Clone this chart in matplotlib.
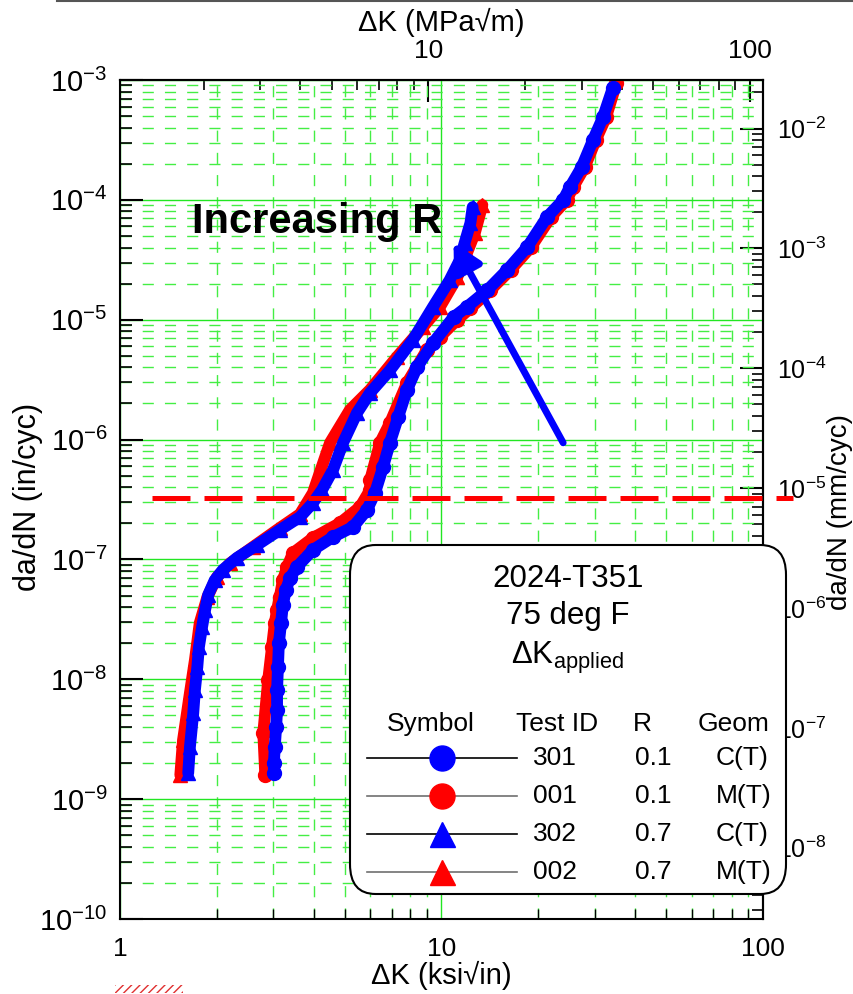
import matplotlib
matplotlib.use('Agg')
import matplotlib.pyplot as plt
import matplotlib.patheffects as pe
from matplotlib.ticker import LogLocator, NullFormatter, StrMethodFormatter
from matplotlib.patches import FancyBboxPatch, Rectangle
from matplotlib.lines import Line2D
import numpy as np

plt.rcParams['font.family'] = ['Liberation Sans', 'DejaVu Sans']
plt.rcParams['mathtext.fontset'] = 'custom'
plt.rcParams['mathtext.rm'] = 'Liberation Sans'
plt.rcParams['mathtext.it'] = 'Liberation Sans:italic'
plt.rcParams['mathtext.bf'] = 'Liberation Sans:bold'

# ---- data (ΔK in ksi√in, da/dN in in/cyc) ----
dk_301 = [3.01, 3.01, 3.03, 3.06, 3.08, 3.08, 3.10, 3.12, 3.17, 3.21, 3.28, 3.38, 3.55,
          3.98, 4.60, 5.31, 5.86, 6.21, 6.58, 6.91, 7.33, 7.81, 8.39, 9.41, 10.9, 12.0,
          13.9, 16.0, 18.5, 21.3, 23.9, 25.1, 27.3, 29.6, 31.8, 34.1]
dadn_301 = [1.65e-9, 2.0e-9, 2.72e-9, 4.0e-9, 5.5e-9, 8.1e-9, 1.27e-8, 2.0e-8, 2.95e-8,
            4.17e-8, 5.56e-8, 7.0e-8, 8.65e-8, 1.2e-7, 1.54e-7, 1.87e-7, 2.58e-7, 3.58e-7,
            5.9e-7, 9.4e-7, 1.54e-6, 2.6e-6, 4.0e-6, 6.4e-6, 1.05e-5, 1.28e-5, 1.77e-5,
            2.6e-5, 4.05e-5, 7.2e-5, 9.97e-5, 1.28e-4, 1.88e-4, 3.16e-4, 4.9e-4, 8.58e-4]

dk_001 = [2.83, 2.79, 2.89, 2.97, 3.03, 3.08, 3.14, 3.21, 3.31, 3.45, 3.98, 4.83, 5.58,
          6.0, 6.0, 6.44, 6.91, 7.81, 9.01, 9.89, 11.2, 12.3, 14.2, 16.4, 19.0, 21.9,
          24.5, 25.7, 27.9, 30.2, 32.5, 35.0]
dadn_001 = [1.59e-9, 3.56e-9, 9.9e-9, 1.86e-8, 2.95e-8, 3.8e-8, 4.86e-8, 6.7e-8, 8.65e-8,
            1.13e-7, 1.51e-7, 2.01e-7, 2.74e-7, 3.8e-7, 4.6e-7, 9.4e-7, 1.37e-6, 2.96e-6,
            5.6e-6, 7.2e-6, 1.0e-5, 1.25e-5, 1.77e-5, 2.6e-5, 4.05e-5, 7.2e-5, 9.97e-5,
            1.28e-4, 1.88e-4, 3.16e-4, 4.9e-4, 9.4e-4]

dk_302 = [1.63, 1.65, 1.69, 1.71, 1.74, 1.76, 1.80, 1.84, 1.88, 1.97, 2.09, 2.31, 2.67,
          3.14, 3.63, 3.98, 4.25, 4.60, 4.94, 5.46, 5.99, 6.92, 8.15, 9.41, 10.6, 11.4,
          11.8, 12.3, 12.5]
dadn_302 = [1.65e-9, 2.72e-9, 5.24e-9, 8.1e-9, 1.27e-8, 1.86e-8, 2.73e-8, 3.8e-8, 5.05e-8,
            6.7e-8, 8.2e-8, 1.03e-7, 1.32e-7, 1.76e-7, 2.26e-7, 2.96e-7, 3.8e-7, 5.6e-7,
            9.4e-7, 1.67e-6, 2.45e-6, 3.8e-6, 6.8e-6, 1.28e-5, 2.14e-5, 3.15e-5, 4.36e-5,
            6.4e-5, 8.7e-5]

dk_002 = [1.54, 1.57, 1.65, 1.71, 1.77, 1.87, 2.00, 2.20, 2.59, 3.14, 3.63, 3.98, 4.50,
          5.19, 5.99, 7.27, 8.76, 9.89, 11.2, 12.0, 12.7, 13.4]
dadn_002 = [1.59e-9, 3.1e-9, 7.7e-9, 1.45e-8, 2.95e-8, 4.86e-8, 7.1e-8, 9.3e-8, 1.27e-7,
            1.83e-7, 2.39e-7, 3.58e-7, 9.4e-7, 1.77e-6, 2.6e-6, 4.9e-6, 8.7e-6, 1.28e-5,
            2.27e-5, 3.6e-5, 5.3e-5, 9.06e-5]

test_ids = ['301', '001', '302', '002']
r_values = ['0.1', '0.1', '0.7', '0.7']
geoms = ['C(T)', 'M(T)', 'C(T)', 'M(T)']
colors = ['#0000ff', '#ff0000', '#0000ff', '#ff0000']
markers = ['o', 'o', '^', '^']
legend_line_colors = ['black', '#707070', 'black', '#707070']
series_dk = [dk_301, dk_001, dk_302, dk_002]
series_dadn = [dadn_301, dadn_001, dadn_302, dadn_002]

threshold_dadn = 3.26e-7
arrow_tail = (23.9, 9.4e-7)
arrow_head = (10.9, 4.4e-5)

MPA_PER_KSI = 1.0988
MM_PER_IN = 25.4

W, H = 854, 994


def fx(px):
    return px / W


def fy(py):
    return 1 - py / H


fig = plt.figure(figsize=(W / 100, H / 100), dpi=100)
ax = fig.add_axes([fx(120), fy(919), (763 - 120) / W, (919 - 80) / H])
ax.set_xscale('log')
ax.set_yscale('log')
ax.set_xlim(1, 100)
ax.set_ylim(1e-10, 1e-3)

# grid
ax.yaxis.set_minor_locator(LogLocator(base=10, subs=np.arange(2, 10), numticks=100))
ax.xaxis.set_minor_locator(LogLocator(base=10, subs=np.arange(2, 10), numticks=100))
ax.xaxis.set_minor_formatter(NullFormatter())
ax.yaxis.set_minor_formatter(NullFormatter())
ax.grid(which='major', color='#22e622', lw=1.0, ls='-', zorder=0)
ax.grid(which='minor', color='#44ee44', lw=1.0, ls=(0, (8, 8)), zorder=0)
ax.set_axisbelow(True)

# curves: red first, blue on top
order = [1, 3, 0, 2]
for k, i in enumerate(order):
    z = 2 + k * 0.2
    ax.plot(series_dk[i], series_dadn[i], color=colors[i], lw=8.5,
            solid_capstyle='round', solid_joinstyle='round', zorder=z)
    ax.plot(series_dk[i], series_dadn[i], ls='none', marker=markers[i], ms=10,
            color=colors[i], mec=colors[i], zorder=z + 0.1)

# threshold line
ax.axhline(threshold_dadn, xmin=(152 - 120) / 643, xmax=(793 - 120) / 643,
           color='#ff0000', lw=3.6, dashes=(7.6, 2.8), clip_on=False, zorder=4)

# arrow + note
ann = ax.annotate('', xy=arrow_head, xytext=arrow_tail,
                  arrowprops=dict(arrowstyle='-|>,head_length=0.85,head_width=0.45',
                                  color='#0000ff', lw=5, shrinkA=0, shrinkB=0,
                                  mutation_scale=20), zorder=5)
ann.arrow_patch.set_path_effects([pe.SimplePatchShadow(offset=(2, -2), alpha=0.4),
                                  pe.Normal()])
ax.text(1.675, 6.5e-5, 'Increasing R', fontsize=30, fontweight='bold',
        ha='left', va='center', zorder=6)

# ticks
for sp in ax.spines.values():
    sp.set_linewidth(1.5)
ax.tick_params(which='both', direction='in', top=False, right=False)
ax.tick_params(axis='y', which='major', length=16.5, width=1.5, pad=9, labelsize=21)
ax.tick_params(axis='y', which='minor', length=8.5, width=1.2)
ax.tick_params(axis='x', which='major', length=0, pad=13, labelsize=19)
ax.tick_params(axis='x', which='minor', length=7, width=1.0)
ax.xaxis.set_major_formatter(StrMethodFormatter('{x:g}'))

secx = ax.secondary_xaxis('top', functions=(lambda k: k * MPA_PER_KSI,
                                            lambda m: m / MPA_PER_KSI))
secx.set_xticks([10, 100])
secx.xaxis.set_minor_locator(LogLocator(base=10, subs=np.arange(2, 10), numticks=100))
secx.xaxis.set_minor_formatter(NullFormatter())
secx.xaxis.set_major_formatter(StrMethodFormatter('{x:g}'))
secx.tick_params(which='both', direction='in')
secx.tick_params(which='major', length=16, width=1.5, pad=12, labelsize=19)
secx.tick_params(which='minor', length=7, width=1.2)
secx.spines['top'].set_linewidth(1.5)

secy = ax.secondary_yaxis('right', functions=(lambda v: v * MM_PER_IN,
                                              lambda v: v / MM_PER_IN))
secy.set_yticks([1e-8, 1e-7, 1e-6, 1e-5, 1e-4, 1e-3, 1e-2])
secy.yaxis.set_minor_locator(LogLocator(base=10, subs=np.arange(2, 10), numticks=100))
secy.yaxis.set_minor_formatter(NullFormatter())
secy.tick_params(which='both', direction='in')
secy.tick_params(which='major', length=16.5, width=1.5, pad=10, labelsize=18)
secy.tick_params(which='minor', length=8, width=1.2)
secy.spines['right'].set_linewidth(1.5)

# axis titles
fig.text(fx(441), fy(975), 'ΔK (ksi√in)', fontsize=21, ha='center', va='center')
fig.text(fx(441), fy(22), 'ΔK (MPa√m)', fontsize=21, ha='center', va='center')
fig.text(fx(28), fy(497), 'da/dN (in/cyc)', fontsize=22, rotation=90,
         ha='center', va='center')
fig.text(fx(840), fy(512), 'da/dN (mm/cyc)', fontsize=20, rotation=90,
         ha='center', va='center')

# legend box (drawn over the right axis like the original)
box = FancyBboxPatch((fx(350), fy(894)), (786 - 350) / W, (894 - 545) / H,
                     boxstyle='round,pad=0,rounding_size=0.03',
                     transform=fig.transFigure, facecolor='white', edgecolor='black',
                     lw=1.5, zorder=10)
fig.add_artist(box)
for txt, py in [('2024-T351', 579), ('75 deg F', 616), ('ΔK$_{\\rm applied}$', 658)]:
    fig.text(fx(568), fy(py), txt, fontsize=22.5, ha='center', va='center', zorder=11)
for txt, px in [('Symbol', 431), ('Test ID', 557), ('R', 642), ('Geom', 734)]:
    fig.text(fx(px), fy(724), txt, fontsize=19, ha='center', va='center', zorder=11)
row_y = [758, 796, 834, 872]
for i, py in enumerate(row_y):
    fig.add_artist(Line2D([fx(367), fx(517)], [fy(py), fy(py)], transform=fig.transFigure,
                          color=legend_line_colors[i], lw=1.2, zorder=11))
    fig.add_artist(Line2D([fx(442)], [fy(py)], transform=fig.transFigure, ls='none',
                          marker=markers[i], ms=18, color=colors[i], zorder=12))
    fig.text(fx(533), fy(py), test_ids[i], fontsize=19, ha='left', va='center', zorder=11)
    fig.text(fx(635), fy(py), r_values[i], fontsize=19, ha='left', va='center', zorder=11)
    fig.text(fx(716), fy(py), geoms[i], fontsize=19, ha='left', va='center', zorder=11)

# page decorations
fig.add_artist(Line2D([fx(57), 1], [fy(1), fy(1)], transform=fig.transFigure,
                      color='#555555', lw=1.5))
fig.add_artist(Rectangle((fx(115), fy(993)), 68 / W, 8 / H, transform=fig.transFigure,
                         fill=False, hatch='////', edgecolor='#e03030', lw=0))

fig.savefig('out.png', dpi=100)
